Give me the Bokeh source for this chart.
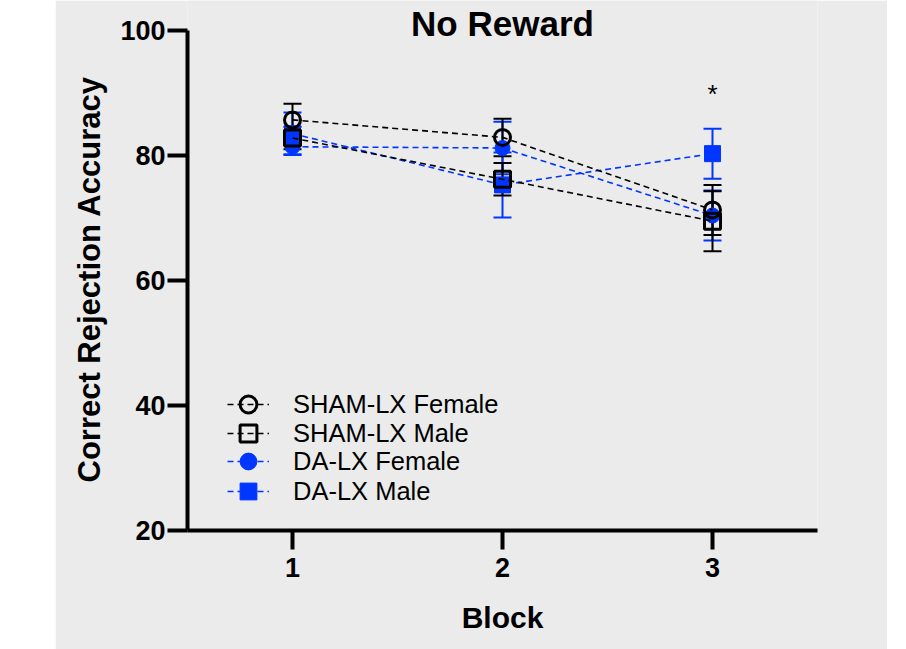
from bokeh.plotting import figure
from bokeh.models import (ColumnDataSource, Whisker, TeeHead, Legend, LegendItem,
                          Range1d, FixedTicker, Spacer, Title)
from bokeh.layouts import row
from bokeh.embed import file_html
from bokeh.resources import INLINE
from bokeh.core.properties import value

# ---------------- data ----------------
blocks = [1, 2, 3]
block_labels = ["1", "2", "3"]
sham_f = [85.7, 82.9, 71.3]
sham_f_err = [2.6, 3.0, 4.0]
sham_m = [82.8, 76.2, 69.5]
sham_m_err = [1.8, 2.6, 4.8]
da_f = [81.4, 81.2, 70.4]
da_f_err = [1.2, 4.2, 4.0]
da_m = [83.5, 75.3, 80.3]
da_m_err = [3.4, 5.2, 4.0]
sig_x = [3]
sig_y = [89.8]
sig_text = ["*"]
y_ticks = [20, 40, 60, 80, 100]
title_text = "No Reward"
y_label = "Correct Rejection Accuracy"
x_label = "Block"
legend_labels = ["SHAM-LX Female", "SHAM-LX Male", "DA-LX Female", "DA-LX Male"]

BG = "#ebebeb"
BLUE = "#0036ff"
FONT = "Liberation Sans"

p = figure(width=832, height=649, output_backend="svg", toolbar_location=None,
           x_range=Range1d(0.5, 3.5), y_range=Range1d(20, 104.8),
           min_border_left=132, min_border_right=70, min_border_top=0,
           min_border_bottom=119)
p.background_fill_color = BG
p.border_fill_color = BG
p.outline_line_color = None
p.grid.visible = False

def series(vals, errs, color, marker, filled, size):
    src = ColumnDataSource(dict(x=blocks, y=vals,
                                lo=[v - e for v, e in zip(vals, errs)],
                                hi=[v + e for v, e in zip(vals, errs)]))
    w = Whisker(source=src, base="x", lower="lo", upper="hi",
                line_color=color, line_width=2,
                upper_head=TeeHead(size=18, line_color=color, line_width=2),
                lower_head=TeeHead(size=18, line_color=color, line_width=2))
    p.add_layout(w)
    ln = p.line("x", "y", source=src, line_color=color, line_width=1.6,
                line_dash="6 4")
    if filled:
        sc = p.scatter("x", "y", source=src, marker=marker, size=size,
                       fill_color=color, line_color=color, line_width=1)
    else:
        sc = p.scatter("x", "y", source=src, marker=marker, size=size,
                       fill_color=None, line_color=color, line_width=3)
    return [ln, sc]

r_daf = series(da_f, da_f_err, BLUE, "circle", True, 15)
r_dam = series(da_m, da_m_err, BLUE, "square", True, 16)
r_shf = series(sham_f, sham_f_err, "black", "circle", False, 16)
r_shm = series(sham_m, sham_m_err, "black", "square", False, 16)

p.text(x=sig_x, y=sig_y, text=sig_text, text_font=value(FONT),
       text_font_size="26px", text_align="center", text_baseline="middle",
       text_color="black")

# title drawn inside the (extended) frame, centred over the x range
p.text(x=[(p.x_range.start + p.x_range.end) / 2], y=[101.12],
       text=[title_text], text_font=value(FONT), text_font_size="35px",
       text_font_style="bold", text_align="center", text_baseline="middle",
       text_color="black")

# axes
for ax in (p.xaxis[0], p.yaxis[0]):
    ax.axis_line_width = 4
    ax.axis_line_color = "black"
    ax.major_tick_line_width = 4
    ax.major_tick_line_color = "black"
    ax.major_tick_in = 0
    ax.minor_tick_line_color = None
    ax.major_label_text_font = FONT
    ax.major_label_text_font_style = "bold"
    ax.major_label_text_font_size = "27px"
    ax.major_label_text_color = "black"
    ax.axis_label_text_font = FONT
    ax.axis_label_text_font_style = "bold"
    ax.axis_label_text_font_size = "30px"
    ax.axis_label_text_color = "black"

p.xaxis.ticker = FixedTicker(ticks=blocks)
p.xaxis.major_label_overrides = {b: l for b, l in zip(blocks, block_labels)}
p.xaxis.major_tick_out = 19
p.xaxis.major_label_standoff = 8
p.xaxis.axis_label = x_label
p.xaxis.axis_label_standoff = 21

p.yaxis.ticker = FixedTicker(ticks=y_ticks)
p.yaxis.bounds = (20, 100)
p.yaxis.major_tick_out = 20
p.yaxis.major_label_standoff = 2

# y label as a side title, anchored from the bottom of the frame so it is
# centred on the 20..100 span
p.add_layout(Title(text=y_label, align="left", offset=48, standoff=20,
                   vertical_align="middle",
                   text_font=FONT, text_font_size="31px",
                   text_font_style="bold", text_color="black"), "left")

# one legend per row so the row pitch can be tighter than the glyph box
renderers = [r_shf, r_shm, r_daf, r_dam]
row_bottoms = [104, 75, 47, 17]
for lab, rr, yb in zip(legend_labels, renderers, row_bottoms):
    lg = Legend(items=[LegendItem(label=lab, renderers=rr)], location=(40, yb))
    lg.label_text_font = FONT
    lg.label_text_font_size = "25.5px"
    lg.label_text_color = "black"
    lg.background_fill_alpha = 0
    lg.border_line_alpha = 0
    lg.glyph_width = 42
    lg.glyph_height = 44
    lg.label_height = 44
    lg.padding = 0
    lg.margin = 0
    lg.label_standoff = 24
    p.add_layout(lg)

layout = row(Spacer(width=55, height=649), p)
open("out.html", "w").write(file_html(layout, INLINE))
